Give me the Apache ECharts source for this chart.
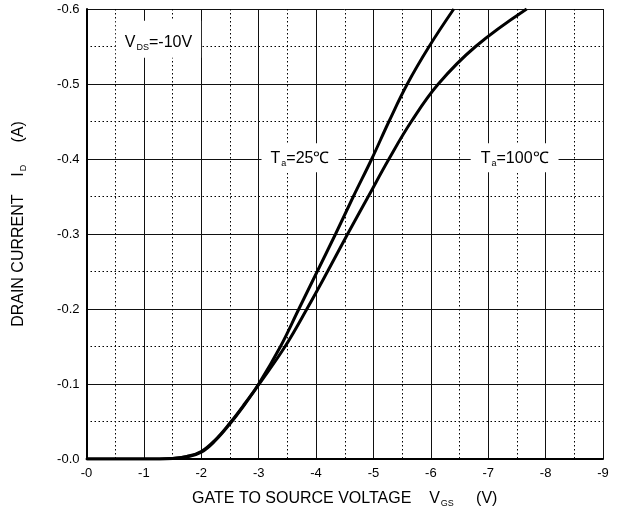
<!DOCTYPE html>
<html>
<head>
<meta charset="utf-8">
<script src="https://cdn.jsdelivr.net/npm/echarts@6/dist/echarts.min.js"></script>
<style>
html,body{margin:0;padding:0;background:#fff;}
#chart{width:624px;height:515px;}
</style>
</head>
<body>
<div id="chart"></div>
<script>
// Gate voltage VGS (V) and drain current ID (A)
var vgs25 = [0, -1.0, -1.5, -1.75, -2.0, -2.25, -2.5, -2.75, -3.0, -3.38, -3.70, -4.02, -4.34, -4.65, -4.97, -5.27, -5.59, -5.97, -6.40];
var id25  = [0, 0, -0.0008, -0.0035, -0.010, -0.026, -0.048, -0.073, -0.100, -0.150, -0.200, -0.250, -0.300, -0.350, -0.400, -0.450, -0.500, -0.550, -0.600];
var vgs100 = [0, -1.0, -1.5, -1.75, -2.0, -2.25, -2.5, -2.75, -3.0, -3.46, -3.84, -4.20, -4.55, -4.91, -5.27, -5.66, -6.13, -6.78, -7.67];
var id100  = [0, 0, -0.0007, -0.003, -0.009, -0.025, -0.047, -0.072, -0.099, -0.150, -0.200, -0.250, -0.300, -0.350, -0.400, -0.450, -0.500, -0.550, -0.600];
var xTicks = [0, -1, -2, -3, -4, -5, -6, -7, -8, -9];
var yTicks = [0, -0.1, -0.2, -0.3, -0.4, -0.5, -0.6];
var seriesNames = ['Ta=25℃', 'Ta=100℃'];

function pairs(xs, ys){ return xs.map(function(x,i){ return [x, ys[i]]; }); }

var FONT = '"Liberation Sans", Arial, sans-serif';
var chart = echarts.init(document.getElementById('chart'), null, {renderer:'canvas'});

var labelStyle = {
  show: true, position: 'inside', color: '#000', fontFamily: FONT, fontSize: 16,
  backgroundColor: '#fff', padding: [6, 9, 4, 9],
  rich: {
    m: {fontSize: 16, fontFamily: FONT, color: '#000'},
    s: {fontSize: 9, fontFamily: FONT, color: '#000', padding: [10, 0, 0, 1]}
  }
};

function mp(coord, text, pad){
  var l = JSON.parse(JSON.stringify(labelStyle));
  l.formatter = text;
  if (pad) l.padding = pad;
  return {coord: coord, symbol: 'rect', symbolSize: 1, itemStyle: {color: 'rgba(0,0,0,0)'}, label: l};
}

var richName = {m: {fontSize: 16, fontFamily: FONT, color: '#000'}, s: {fontSize: 9, fontFamily: FONT, color: '#000', padding: [10,0,0,1]}};

var option = {
  animation: false,
  backgroundColor: '#fff',
  grid: {left: 86.5, right: 21, top: 9, bottom: 56, containLabel: false},
  xAxis: {
    type: 'value', min: -9, max: 0, interval: 1, inverse: true,
    name: '{m|GATE TO SOURCE VOLTAGE    V}{s|GS}{m|     (V)}',
    nameLocation: 'middle', nameGap: 30,
    nameTextStyle: {fontFamily: FONT, fontSize: 16, color: '#000', rich: richName},
    axisLine: {show: true, onZero: false, lineStyle: {color: '#000', width: 2}},
    axisTick: {show: false},
    axisLabel: {fontFamily: FONT, fontSize: 13, color: '#000', margin: 8,
      formatter: function(v){ return v === 0 ? '-0' : String(v); }},
    splitLine: {show: true, lineStyle: {color: '#111', width: 1}},
    minorTick: {show: false, splitNumber: 2},
    minorSplitLine: {show: true, lineStyle: {color: '#000', width: 1, type: [1.5, 2.5]}}
  },
  yAxis: {
    type: 'value', min: -0.6, max: 0, interval: 0.1, inverse: true,
    name: '{m|DRAIN CURRENT    I}{s|D}{m|     (A)}',
    nameLocation: 'middle', nameGap: 58,
    nameTextStyle: {fontFamily: FONT, fontSize: 16, color: '#000', padding: [0, 0, 0, 20], rich: richName},
    axisLine: {show: true, onZero: false, lineStyle: {color: '#000', width: 2}},
    axisTick: {show: false},
    axisLabel: {fontFamily: FONT, fontSize: 13, color: '#000', margin: 7,
      formatter: function(v){ return Math.abs(v) < 1e-9 ? '-0.0' : v.toFixed(1); }},
    splitLine: {show: true, lineStyle: {color: '#111', width: 1}},
    minorTick: {show: false, splitNumber: 2},
    minorSplitLine: {show: true, lineStyle: {color: '#000', width: 1, type: [1.5, 2.5]}}
  },
  series: [
    {
      name: seriesNames[0], type: 'line', data: pairs(vgs25, id25), smooth: 0.4,
      symbol: 'none', clip: true,
      lineStyle: {color: '#000', width: 3},
      markPoint: {silent: true, data: [
        mp([-3.72, -0.4016], '{m|T}{s|a}{m|=25℃}', [6, 9, 4, 9]),
        mp([-1.254, -0.5596], '{m|V}{s|DS}{m|=-10V}', [12, 9, 6, 9])
      ]}
    },
    {
      name: seriesNames[1], type: 'line', data: pairs(vgs100, id100), smooth: 0.4,
      symbol: 'none', clip: true,
      lineStyle: {color: '#000', width: 3},
      markPoint: {silent: true, data: [
        mp([-7.46, -0.4016], '{m|T}{s|a}{m|=100℃}', [6, 10, 4, 10])
      ]}
    }
  ]
};
chart.setOption(option);
</script>
</body>
</html>
